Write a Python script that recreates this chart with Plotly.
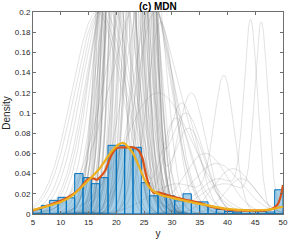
import numpy as np
import plotly.graph_objects as go

# ---------------- data ----------------
bin_edges = [5 + 1.5 * i for i in range(31)]
hist_density = [0.0045, 0.0085, 0.0135, 0.0165, 0.016, 0.040, 0.036, 0.030,
                0.036, 0.068, 0.068, 0.066, 0.066, 0.031, 0.018, 0.020,
                0.018, 0.013, 0.020, 0.012, 0.012, 0.0075, 0.0045, 0.0025,
                0.002, 0.004, 0.003, 0.0025, 0.002, 0.024]

kde_x = [5, 7, 9, 11, 13, 14, 15, 16, 16.5, 17, 18, 19, 20, 21, 22, 23, 24,
         24.7, 25.3, 26, 26.8, 27.6, 29, 31, 33, 35, 37, 39, 41, 43, 45, 47,
         48, 49, 49.5, 50]
kde_y = [0.0036, 0.0069, 0.011, 0.0157, 0.023, 0.029, 0.035, 0.035, 0.034,
         0.036, 0.043, 0.057, 0.065, 0.066, 0.066, 0.066, 0.063, 0.055, 0.040,
         0.027, 0.021, 0.0215, 0.019, 0.016, 0.0135, 0.011, 0.0072, 0.005,
         0.0037, 0.0033, 0.0033, 0.0036, 0.0049, 0.0092, 0.0157, 0.0288]

mdn_x = [5, 6, 8, 10, 12, 14, 16, 17, 18, 19, 20, 20.5, 21, 21.5, 22, 23, 24,
         25, 26, 27, 28, 30, 32, 34, 36, 38, 40, 42, 44, 46, 48, 49, 50]
mdn_y = [0.004, 0.0055, 0.0085, 0.0118, 0.018, 0.028, 0.039, 0.045, 0.053,
         0.061, 0.067, 0.069, 0.0703, 0.0698, 0.067, 0.060, 0.048, 0.035,
         0.026, 0.0215, 0.0188, 0.016, 0.0135, 0.011, 0.009, 0.0068, 0.005,
         0.004, 0.0036, 0.0037, 0.0048, 0.006, 0.0072]

# individual predicted densities (gray): centre, spread, peak of up to two bumps
g_mu1 = [
    # tall narrow ones
    19.0, 19.3, 19.5, 19.7, 19.9, 20.1, 20.3, 20.5, 20.7, 20.9, 21.1, 21.3,
    21.5, 21.7, 21.9, 22.1, 22.3, 22.5, 22.7, 22.9, 23.1, 23.3, 23.5, 23.7,
    23.9, 24.1, 24.3, 24.5, 24.8, 25.1, 25.4, 25.8, 26.2, 20.0, 21.0, 22.0,
    # broad ones (left fan, right fan)
    16.5, 17.0, 17.5, 18.0, 18.5, 19.0, 19.5, 20.0, 20.6, 21.2, 21.8,
    25.5, 26.5, 27.0, 28.0, 26.8, 24.0, 25.0, 27.5, 22.5,
    # right-hand bumps
    44.2, 46.1, 39.4, 33.5, 31.8, 32.5, 30.8, 33.0, 36.0, 38.0, 41.0, 42.5]
g_sd1 = [
    2.0, 1.6, 2.3, 1.8, 2.1, 1.5, 2.4, 1.9, 1.7, 2.2, 1.6, 2.0,
    2.3, 1.8, 2.1, 1.5, 2.2, 1.9, 1.7, 2.3, 1.6, 2.0, 2.2, 1.8,
    2.1, 1.7, 2.0, 1.9, 2.1, 1.8, 2.0, 1.9, 2.0, 2.6, 2.8, 2.7,
    4.5, 4.5, 4.3, 4.2, 4.0, 4.0, 3.8, 3.6, 3.4, 3.3, 3.2,
    4.0, 3.5, 3.5, 2.5, 2.2, 5.5, 6.0, 6.0, 3.5,
    1.2, 1.2, 1.8, 2.6, 2.8, 3.2, 2.8, 3.0, 4.0, 4.5, 3.5, 3.0]
g_pk1 = [
    0.30, 0.38, 0.45, 0.55, 0.62, 0.50, 0.80, 0.70, 0.65, 0.90, 0.60, 0.85,
    1.00, 0.75, 0.95, 0.60, 1.00, 0.85, 0.70, 0.95, 0.65, 0.85, 0.80, 0.70,
    0.75, 0.55, 0.60, 0.50, 0.45, 0.38, 0.33, 0.27, 0.23, 0.50, 0.60, 0.55,
    0.20, 0.20, 0.205, 0.21, 0.22, 0.23, 0.27, 0.30, 0.33, 0.37, 0.42,
    0.23, 0.21, 0.20, 0.19, 0.24, 0.25, 0.22, 0.12, 0.40,
    0.18, 0.18, 0.13, 0.12, 0.11, 0.10, 0.095, 0.085, 0.06, 0.05, 0.045, 0.035]
n_single = len(g_mu1) - 12
g_mu2 = [0] * n_single + [38.5, 39.5, 31.0, 22.0, 21.0, 23.5, 20.5, 24.0, 22.8,
                          21.5, 24.5, 23.0]
g_sd2 = [1] * n_single + [4.0, 4.5, 5.0, 2.0, 1.8, 1.9, 2.0, 1.8, 2.0, 2.1,
                          2.0, 2.2]
g_pk2 = [0] * n_single + [0.035, 0.03, 0.03, 0.6, 0.7, 0.65, 0.6, 0.6, 0.7,
                          0.75, 0.5, 0.6]

# ---------------- build figure ----------------
xg = np.arange(5, 50.0001, 0.1)
gx, gy = [], []
for m1, s1, p1, m2, s2, p2 in zip(g_mu1, g_sd1, g_pk1, g_mu2, g_sd2, g_pk2):
    yy = p1 * np.exp(-0.5 * ((xg - m1) / s1) ** 2) + p2 * np.exp(-0.5 * ((xg - m2) / s2) ** 2)
    gx += list(xg) + [None]
    gy += list(yy) + [None]

fig = go.Figure()
fig.add_trace(go.Scatter(x=gx, y=gy, mode="lines",
                         line=dict(color="rgba(120,120,120,0.36)", width=0.6),
                         hoverinfo="skip", showlegend=False))

# histogram rectangles
hx, hy = [], []
for i, h in enumerate(hist_density):
    a, b = bin_edges[i], bin_edges[i + 1]
    hx += [a, a, b, b, a, None]
    hy += [0, h, h, 0, 0, None]
fig.add_trace(go.Scatter(x=hx, y=hy, mode="lines", fill="toself",
                         fillcolor="rgba(0,114,189,0.34)",
                         line=dict(color="rgb(0,114,189)", width=1),
                         hoverinfo="skip", showlegend=False))

fig.add_trace(go.Scatter(x=kde_x, y=kde_y, mode="lines",
                         line=dict(color="#D95319", width=2.2, shape="spline", smoothing=0.8),
                         showlegend=False))
fig.add_trace(go.Scatter(x=mdn_x, y=mdn_y, mode="lines",
                         line=dict(color="#EDB120", width=2.2, shape="spline", smoothing=0.8),
                         showlegend=False))

font = "Liberation Sans, Arial, Helvetica, sans-serif"
axis_common = dict(showline=True, linecolor="#6e6e6e", linewidth=1, mirror="ticks",
                   ticks="inside", ticklen=3, tickcolor="#6e6e6e", showgrid=False,
                   zeroline=False, ticklabeloverflow="allow",
                   tickfont=dict(family=font, size=8, color="#262626"))

yt = [0, 0.02, 0.04, 0.06, 0.08, 0.1, 0.12, 0.14, 0.16, 0.18, 0.2]
fig.update_layout(
    width=294, height=244,
    margin=dict(l=31, r=6, t=12, b=28),
    paper_bgcolor="white", plot_bgcolor="white",
    font=dict(family=font, color="#262626"),
    xaxis=dict(range=[5, 50], tickvals=list(range(5, 51, 5)),
               title=dict(text="y", font=dict(size=10), standoff=4), **axis_common),
    yaxis=dict(range=[0, 0.2], tickvals=yt, ticktext=[f"{v:g}" for v in yt],
               title=dict(text="Density", font=dict(size=10), standoff=2), **axis_common),
    annotations=[dict(text="<b>(c) MDN</b>", xref="paper", yref="paper", x=0.5, y=1,
                      xanchor="center", yanchor="bottom", yshift=-2, showarrow=False,
                      font=dict(family=font, size=10, color="black"))],
)

fig.write_html("out.html", config={"displayModeBar": False},
               post_script="document.body.style.margin='0';document.body.style.overflow='hidden';")
